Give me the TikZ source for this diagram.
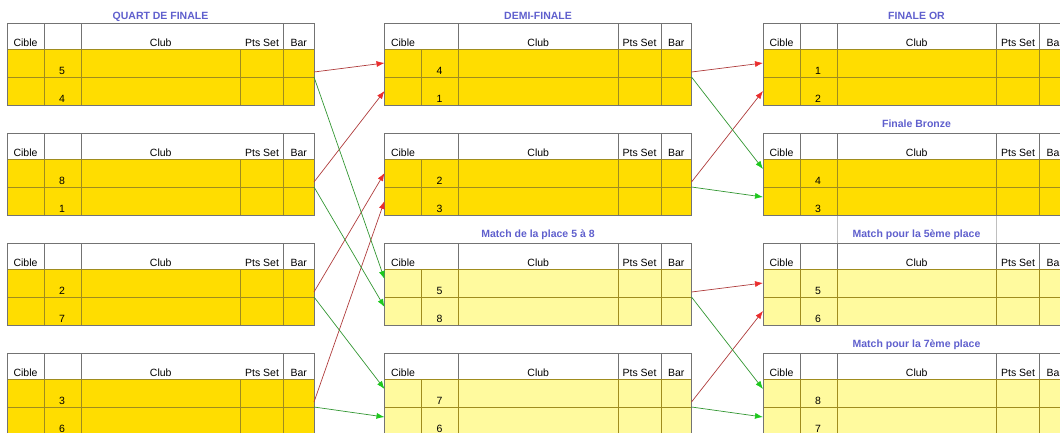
\documentclass[tikz,border=0pt]{standalone}
\usepackage{fontspec}
\setmainfont{Liberation Sans}
\usepackage{tikz}
\usetikzlibrary{arrows.meta}
\usetikzlibrary{positioning}

\definecolor{gold}{RGB}{255,221,0}
\definecolor{paleyellow}{RGB}{255,250,158}
\definecolor{cellline}{RGB}{160,140,30}
\definecolor{frameline}{RGB}{115,115,115}
\definecolor{titleblue}{RGB}{95,95,205}
\definecolor{winline}{RGB}{175,60,60}
\definecolor{winhead}{RGB}{235,45,45}
\definecolor{loseline}{RGB}{50,150,50}
\definecolor{losehead}{RGB}{30,200,30}

% one match sheet: name, left x, top y, fill, the two numbers, header rules
\newcommand{\matchtab}[7]{%
	\node[headrow,anchor=north west](#1h) at (#2,#3){};
	\node[datarow,fill=#4,below=0pt of #1h](#1a){};
	\node[datarow,fill=#4,below=0pt of #1a](#1b){};
	\foreach \cx in {37,74,233.5,276.5}
		\draw[cellline]([xshift=\cx pt]#1a.north west)--([xshift=\cx pt]#1b.south west);
	\draw[frameline](#1a.north west)--(#1b.south west)--(#1b.south east)--(#1a.north east);
	\foreach \cx in {#7}
		\draw[frameline]([xshift=\cx pt]#1h.north west)--([xshift=\cx pt]#1h.south west);
	\node[celltext](#1cible) at ([xshift=18.5pt,yshift=3pt]#1h.south west){Cible};
	\node[celltext](#1club) at ([xshift=153.75pt,yshift=3pt]#1h.south west){Club};
	\node[celltext](#1pts) at ([xshift=255pt,yshift=3pt]#1h.south west){Pts Set};
	\node[celltext](#1bar) at ([xshift=291.75pt,yshift=3pt]#1h.south west){Bar};
	\node[celltext](#1n1) at ([xshift=55pt,yshift=3pt]#1a.south west){#5};
	\node[celltext](#1n2) at ([xshift=55pt,yshift=3pt]#1b.south west){#6};
}

\begin{document}
\begin{tikzpicture}[x=1pt,y=-1pt]
	\tikzstyle{headrow}=[rectangle,draw=frameline,fill=white,line width=0.6pt,
		minimum width=307pt,minimum height=26pt,inner sep=0pt,outer sep=0pt];
	\tikzstyle{datarow}=[rectangle,draw=cellline,line width=0.6pt,
		minimum width=307pt,minimum height=28pt,inner sep=0pt,outer sep=0pt];
	\tikzstyle{celltext}=[anchor=base,inner sep=0pt,font=\fontsize{10.5}{12}\selectfont];
	\tikzstyle{ttl}=[anchor=base,inner sep=0pt,text=titleblue,
		font=\fontsize{10.5}{12}\selectfont\bfseries];
	\tikzstyle{ttlbox}=[rectangle,draw=black!25,fill=white,anchor=north west,
		minimum width=159pt,minimum height=28pt,inner sep=0pt];
	\tikzstyle{win}=[draw=winline,line width=0.7pt,-{Latex[length=8pt,width=6pt,color=winhead]}];
	\tikzstyle{lose}=[draw=loseline,line width=0.7pt,-{Latex[length=8pt,width=6pt,color=losehead]}];
	\useasboundingbox(0,0) rectangle (1060,432);
	\clip(0,0) rectangle (1060,432);

	\node[ttlbox](m5box) at (837,215){};

	% quarts
	\matchtab{q1}{7}{23}{gold}{5}{4}{37,74,276.5}
	\matchtab{q2}{7}{133}{gold}{8}{1}{37,74,276.5}
	\matchtab{q3}{7}{243}{gold}{2}{7}{37,74,276.5}
	\matchtab{q4}{7}{353}{gold}{3}{6}{37,74,276.5}
	% demis and places 5 to 8
	\matchtab{s1}{384.5}{23}{gold}{4}{1}{74,233.5,276.5}
	\matchtab{s2}{384.5}{133}{gold}{2}{3}{74,233.5,276.5}
	\matchtab{p1}{384.5}{243}{paleyellow}{5}{8}{74,233.5,276.5}
	\matchtab{p2}{384.5}{353}{paleyellow}{7}{6}{74,233.5,276.5}
	% finals
	\matchtab{fo}{763}{23}{gold}{1}{2}{37,74,233.5,276.5}
	\matchtab{fb}{763}{133}{gold}{4}{3}{37,74,233.5,276.5}
	\matchtab{m5}{763}{243}{paleyellow}{5}{6}{37,74,233.5,276.5}
	\matchtab{m7}{763}{353}{paleyellow}{8}{7}{37,74,233.5,276.5}

	\node[ttl](q1t) at ([yshift=4pt]q1h.north){QUART DE FINALE};
	\node[ttl](s1t) at ([yshift=4pt]s1h.north){DEMI-FINALE};
	\node[ttl](fot) at ([yshift=4pt]foh.north){FINALE OR};
	\node[ttl](fbt) at ([yshift=6pt]fbh.north){Finale Bronze};
	\node[ttl](p1t) at ([yshift=6pt]p1h.north){Match de la place 5 à 8};
	\node[ttl](m5t) at ([yshift=6pt]m5h.north){Match pour la 5ème place};
	\node[ttl](m7t) at ([yshift=6pt]m7h.north){Match pour la 7ème place};

	% winners go on, losers drop down
	\foreach \from/\to in {q1a/s1a,q2a/s1b,q3a/s2a,q4a/s2b,s1a/foa,s2a/fob,p1a/m5a,p2a/m5b}
		\draw[win]([yshift=5pt]\from.south east)--(\to.west);
	\foreach \from/\to in {q1a/p1a,q2a/p1b,q3a/p2a,q4a/p2b,s1a/fba,s2a/fbb,p1a/m7a,p2a/m7b}
		\draw[lose](\from.south east)--([yshift=4pt]\to.west);
\end{tikzpicture}
\end{document}
